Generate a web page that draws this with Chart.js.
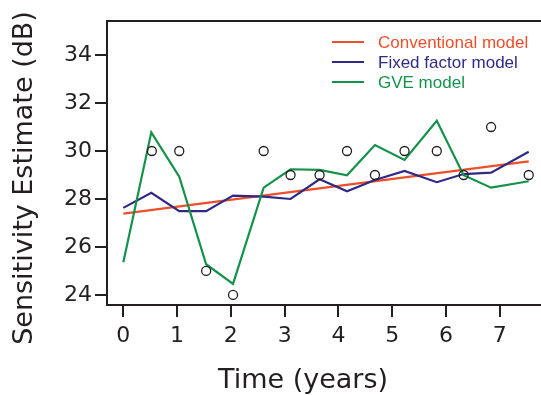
<!DOCTYPE html>
<html>
<head>
<meta charset="utf-8">
<script src="https://cdn.jsdelivr.net/npm/chart.js@4/dist/chart.umd.min.js"></script>
<style>
  html, body { margin: 0; padding: 0; background: #fff; overflow: hidden; }
</style>
</head>
<body>
<!-- canvas is wider than the window: the plot box is cut off on the right like the original -->
<canvas id="myChart" width="570" height="395"></canvas>
<script>
// time points of the model curves (years)
const times = [0, 0.52, 1.04, 1.54, 2.04, 2.61, 3.11, 3.65, 4.16, 4.68, 5.23, 5.83, 6.33, 6.84, 7.54];
const fixedFactor = [27.63, 28.26, 27.49, 27.49, 28.14, 28.1, 28.0, 28.82, 28.32, 28.79, 29.17, 28.7, 29.04, 29.1, 29.97];
const gve = [25.36, 30.78, 28.93, 25.28, 24.46, 28.47, 29.24, 29.21, 28.99, 30.25, 29.63, 31.26, 28.99, 28.47, 28.74];

// conventional model is a straight line, end points only
const convTimes = [0, 7.54];
const conventional = [27.39, 29.57];

// measured points (open circles)
const obsTimes = [0.53, 1.04, 1.54, 2.04, 2.61, 3.11, 3.65, 4.16, 4.68, 5.23, 5.83, 6.33, 6.84, 7.54];
const observed = [30, 30, 25, 24, 30, 29, 29, 30, 29, 30, 30, 29, 31, 29];

const xTicks = [0, 1, 2, 3, 4, 5, 6, 7];
const yTicks = [24, 26, 28, 30, 32, 34];

const seriesNames = ['Conventional model', 'Fixed factor model', 'GVE model'];
const seriesColors = ['#ee4f2b', '#2e2a85', '#15924a'];
const axisColor = '#231f20';

const toPoints = (xs, ys) => xs.map((x, i) => ({ x: x, y: ys[i] }));

const lineSet = (i, xs, ys) => ({
    type: 'line',
    label: seriesNames[i],
    data: toPoints(xs, ys),
    borderColor: seriesColors[i],
    borderWidth: 2.2,
    tension: 0,
    pointRadius: 0,
    fill: false,
    order: 3 - i
});

// top border + legend + axis titles
const extras = {
    id: 'extras',
    afterDraw(chart) {
        const ctx = chart.ctx, area = chart.chartArea;
        ctx.save();
        ctx.strokeStyle = axisColor;
        ctx.lineWidth = 2;
        ctx.beginPath();
        ctx.moveTo(area.left - 1, area.top);
        ctx.lineTo(chart.width, area.top);
        ctx.stroke();

        ctx.font = '17px "Liberation Sans", Arial, sans-serif';
        ctx.textBaseline = 'middle';
        seriesNames.forEach((name, i) => {
            const y = 42 + i * 20;
            ctx.strokeStyle = seriesColors[i];
            ctx.lineWidth = 2;
            ctx.beginPath();
            ctx.moveTo(332, y);
            ctx.lineTo(364, y);
            ctx.stroke();
            ctx.fillStyle = seriesColors[i];
            ctx.fillText(name, 378, y + 1);
        });

        ctx.fillStyle = axisColor;
        ctx.font = '27px "DejaVu Sans", Verdana, sans-serif';
        ctx.textAlign = 'center';
        ctx.fillText('Time (years)', 303, 381);
        ctx.translate(25, 178);
        ctx.rotate(-Math.PI / 2);
        ctx.fillText('Sensitivity Estimate (dB)', 0, 0);
        ctx.restore();
    }
};

const tickFont = { family: '"DejaVu Sans", Verdana, sans-serif', size: 22 };

new Chart(document.getElementById('myChart'), {
    type: 'line',
    data: {
        datasets: [
            {
                type: 'scatter',
                label: 'Observed',
                data: toPoints(obsTimes, observed),
                showLine: false,
                pointStyle: 'circle',
                pointRadius: 4.5,
                borderWidth: 1.3,
                borderColor: axisColor,
                backgroundColor: 'rgba(0,0,0,0)',
                order: 0
            },
            lineSet(0, convTimes, conventional),
            lineSet(1, times, fixedFactor),
            lineSet(2, times, gve)
        ]
    },
    options: {
        responsive: false,
        animation: false,
        layout: { padding: { top: 21, right: 0, left: 0, bottom: 0 } },
        plugins: { legend: { display: false }, tooltip: { enabled: false } },
        scales: {
            x: {
                type: 'linear',
                min: -0.304,
                max: 8.2,
                afterFit: scale => { scale.height = 90; },
                afterBuildTicks: scale => { scale.ticks = xTicks.map(v => ({ value: v })); },
                ticks: { color: axisColor, font: tickFont, padding: 6, maxRotation: 0 },
                grid: { drawOnChartArea: false, tickLength: 12, color: axisColor, lineWidth: 2 },
                border: { display: true, color: axisColor, width: 2 }
            },
            y: {
                min: 23.58,
                max: 35.42,
                afterFit: scale => { scale.width = 107; },
                afterBuildTicks: scale => { scale.ticks = yTicks.map(v => ({ value: v })); },
                ticks: { color: axisColor, font: tickFont, padding: 3 },
                grid: { drawOnChartArea: false, tickLength: 12, color: axisColor, lineWidth: 2 },
                border: { display: true, color: axisColor, width: 2 }
            }
        }
    },
    plugins: [extras]
});
</script>
</body>
</html>
